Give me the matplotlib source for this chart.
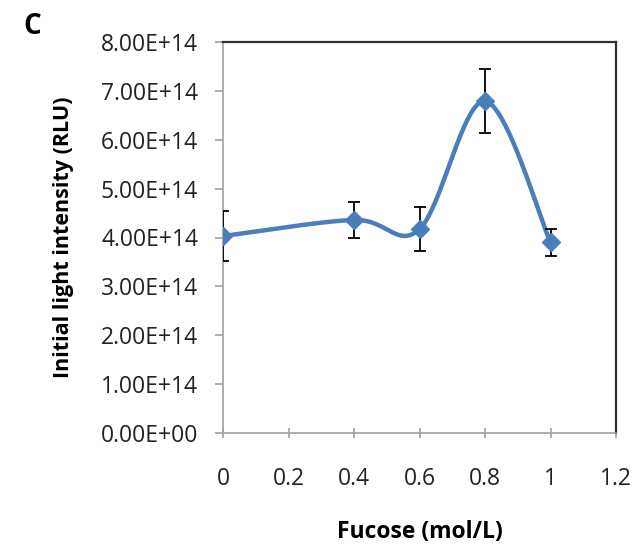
import numpy as np
import matplotlib
matplotlib.use("Agg")
import matplotlib.pyplot as plt

fucose = [0, 0.4, 0.6, 0.8, 1.0]
intensity = [4.03e14, 4.36e14, 4.17e14, 6.79e14, 3.90e14]
errors = [0.52e14, 0.37e14, 0.45e14, 0.65e14, 0.28e14]
x_ticks = [0, 0.2, 0.4, 0.6, 0.8, 1, 1.2]
x_tick_labels = ["0", "0.2", "0.4", "0.6", "0.8", "1", "1.2"]
y_ticks = [i * 1e14 for i in range(9)]
y_tick_labels = ["0.00E+00"] + [f"{i}.00E+14" for i in range(1, 9)]

plt.rcParams['font.family'] = ['Open Sans', 'DejaVu Sans']

def excel_smooth(xs, ys, n=40):
    P = np.column_stack([xs, ys]).astype(float)
    out = []
    for i in range(len(P) - 1):
        p0 = P[i - 1] if i > 0 else P[i]
        p1 = P[i]
        p2 = P[i + 1]
        p3 = P[i + 2] if i + 2 < len(P) else P[i + 1]
        c1 = p1 + (p2 - p0) / 6.0
        c2 = p2 - (p3 - p1) / 6.0
        t = np.linspace(0, 1, n)[:, None]
        seg = ((1 - t) ** 3) * p1 + 3 * ((1 - t) ** 2) * t * c1 + 3 * (1 - t) * t ** 2 * c2 + t ** 3 * p2
        out.append(seg if i == 0 else seg[1:])
    return np.vstack(out)

fig = plt.figure(figsize=(6.35, 5.46), dpi=100)
ax = fig.add_axes([223 / 635, 1 - 433 / 546, (616 - 223) / 635, (433 - 42) / 546])

blue = '#4a7ebb'
curve = excel_smooth(fucose, intensity)
ax.plot(curve[:, 0], curve[:, 1], color=blue, lw=3.2, zorder=2, solid_capstyle='round')
ax.errorbar(fucose, intensity, yerr=errors, fmt='none', ecolor='black', elinewidth=1.3,
            capsize=4.5, capthick=1.3, zorder=3)
ax.plot(fucose, intensity, linestyle='none', marker='D', markersize=9.5, color=blue, zorder=4)

ax.set_xlim(0, 1.2)
ax.set_ylim(0, 8e14)
ax.set_xticks(x_ticks)
ax.set_xticklabels(x_tick_labels)
ax.set_yticks(y_ticks)
ax.set_yticklabels(y_tick_labels)

for s in ['left', 'bottom']:
    ax.spines[s].set_color('#a0a0a0')
    ax.spines[s].set_linewidth(1.2)
for s in ['top', 'right']:
    ax.spines[s].set_color('#303030')
    ax.spines[s].set_linewidth(1.6)

ax.tick_params(axis='y', direction='out', length=6, width=1.2, color='#a0a0a0',
               labelsize=16.5, pad=12, labelcolor='#222222')
ax.tick_params(axis='x', direction='inout', length=7, width=1.2, color='#a0a0a0',
               labelsize=16.5, pad=21, labelcolor='#222222')

ax.set_xlabel('Fucose (mol/L)', fontsize=16.5, fontweight='bold', labelpad=21)
ax.set_ylabel('Initial light intensity (RLU)', fontsize=15.5, fontweight='bold', labelpad=19)

fig.text(32 / 635, 1 - 27 / 546, 'C', fontsize=20, fontweight='bold', va='center', ha='center')

fig.savefig('out.png', dpi=100)
